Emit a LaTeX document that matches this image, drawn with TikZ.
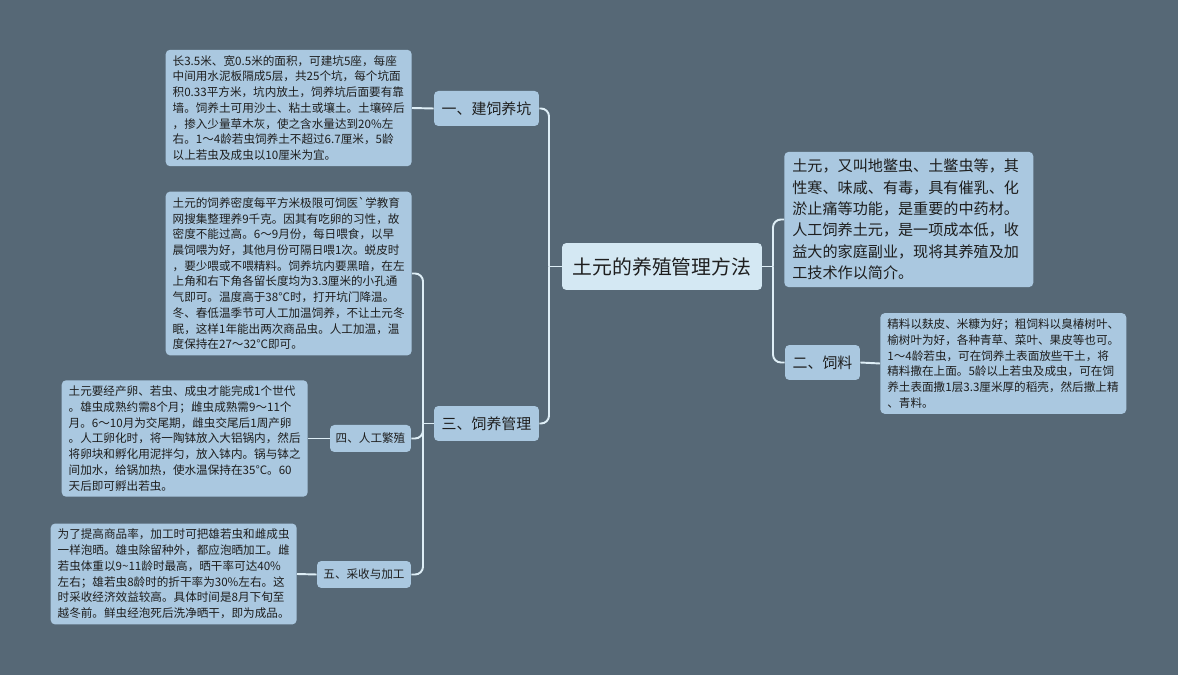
\documentclass[tikz,border=0pt]{standalone}
\usepackage{fontspec}
\setmainfont{Noto Sans CJK SC}
\definecolor{bgc}{RGB}{86,104,118}
\definecolor{boxc}{RGB}{170,200,224}
\definecolor{rootc}{RGB}{212,232,243}
\definecolor{linec}{RGB}{222,238,246}
\definecolor{txtc}{RGB}{30,30,30}

\begin{document}
\begin{tikzpicture}[x=0.02cm,y=-0.02cm,
    rootbox/.style={fill=rootc,rounded corners=2.5pt,text=txtc,font=\fontsize{11.3}{13}\selectfont,minimum width=4cm,minimum height=0.94cm,inner sep=0pt},
    topic/.style={fill=boxc,rounded corners=2.5pt,text=txtc,font=\fontsize{8.5}{10}\selectfont,minimum height=0.7cm,inner sep=0pt},
    subtopic/.style={fill=boxc,rounded corners=2.5pt,text=txtc,font=\fontsize{6.6}{8}\selectfont,minimum height=0.54cm,inner sep=0pt},
    detail/.style={fill=boxc,rounded corners=2.5pt,text=txtc,font=\fontsize{6.6}{8.95}\selectfont,align=left,text width=4.64cm,inner xsep=0.14cm,inner ysep=3.2pt},
    intro/.style={detail,font=\fontsize{8.6}{12.2}\selectfont,text width=4.66cm,inner xsep=0.16cm,inner ysep=4pt},
    link/.style={draw=linec,line width=1.1pt,rounded corners=4.5pt}]
  \fill[bgc] (0,0) rectangle (1178,675);

  \node[rootbox] (root) at (662,266.5) {土元的养殖管理方法};

  \node[intro,anchor=west] (info) at (784,219.5) {土元，又叫地鳖虫、土鳖虫等，其\\性寒、味咸、有毒，具有催乳、化\\淤止痛等功能，是重要的中药材。\\人工饲养土元，是一项成本低，收\\益大的家庭副业，现将其养殖及加\\工技术作以简介。};
  \node[topic,minimum width=1.5cm] (feed) at (822.5,362.5) {二、饲料};
  \node[detail,anchor=west] (feedtxt) at (880,363.5) {精料以麸皮、米糠为好；粗饲料以臭椿树叶、\\榆树叶为好，各种青草、菜叶、果皮等也可。\\1～4龄若虫，可在饲养土表面放些干土，将\\精料撒在上面。5龄以上若虫及成虫，可在饲\\养土表面撒1层3.3厘米厚的稻壳，然后撒上精\\、青料。};

  \node[topic,minimum width=2.1cm] (pit) at (486.5,108.5) {一、建饲养坑};
  \node[detail,anchor=east] (pittxt) at (412,108) {长3.5米、宽0.5米的面积，可建坑5座，每座\\中间用水泥板隔成5层，共25个坑，每个坑面\\积0.33平方米，坑内放土，饲养坑后面要有靠\\墙。饲养土可用沙土、粘土或壤土。土壤碎后\\，掺入少量草木灰，使之含水量达到20\%左\\右。1～4龄若虫饲养土不超过6.7厘米，5龄\\以上若虫及成虫以10厘米为宜。};

  \node[topic,minimum width=2.1cm] (care) at (486.5,423.5) {三、饲养管理};
  \node[detail,anchor=east] (caretxt) at (412,273.5) {土元的饲养密度每平方米极限可饲医\textasciigrave 学教育\\网搜集整理养9千克。因其有吃卵的习性，故\\密度不能过高。6～9月份，每日喂食，以早\\晨饲喂为好，其他月份可隔日喂1次。蜕皮时\\，要少喂或不喂精料。饲养坑内要黑暗，在左\\上角和右下角各留长度均为3.3厘米的小孔通\\气即可。温度高于38°C时，打开坑门降温。\\冬、春低温季节可人工加温饲养，不让土元冬\\眠，这样1年能出两次商品虫。人工加温，温\\度保持在27～32°C即可。};

  \node[subtopic,minimum width=1.62cm] (breed) at (370.5,438.5) {四、人工繁殖};
  \node[detail,anchor=east] (breedtxt) at (308,438.5) {土元要经产卵、若虫、成虫才能完成1个世代\\。雄虫成熟约需8个月；雌虫成熟需9～11个\\月。6～10月为交尾期，雌虫交尾后1周产卵\\。人工卵化时，将一陶钵放入大铝锅内，然后\\将卵块和孵化用泥拌匀，放入钵内。锅与钵之\\间加水，给锅加热，使水温保持在35°C。60\\天后即可孵出若虫。};

  \node[subtopic,minimum width=1.88cm] (harvest) at (364,574.5) {五、采收与加工};
  \node[detail,anchor=east] (harvesttxt) at (297,574) {为了提高商品率，加工时可把雄若虫和雌成虫\\一样泡晒。雄虫除留种外，都应泡晒加工。雌\\若虫体重以9\textasciitilde 11龄时最高，晒干率可达40\%\\左右；雄若虫8龄时的折干率为30\%左右。这\\时采收经济效益较高。具体时间是8月下旬至\\越冬前。鲜虫经泡死后洗净晒干，即为成品。};

  \coordinate (lj) at (549,266.5);
  \coordinate (rj) at (773,266.5);
  \coordinate (cj) at (423,423.5);
  \draw[link] (root.west) -- (lj);
  \draw[link] (lj) |- (pit.east);
  \draw[link] (lj) |- (care.east);
  \draw[link] (root.east) -- (rj);
  \draw[link] (rj) |- (info.west);
  \draw[link] (rj) |- (feed.west);
  \draw[link] (feed.east) -- (feedtxt.west);
  \draw[link] (pit.west) -- (pittxt.east);
  \draw[link] (care.west) -- (cj);
  \draw[link] (cj) |- (caretxt.east);
  \draw[link] (cj) |- (breed.east);
  \draw[link] (cj) |- (harvest.east);
  \draw[link] (breed.west) -- (breedtxt.east);
  \draw[link] (harvest.west) -- (harvesttxt.east);
\end{tikzpicture}
\end{document}
